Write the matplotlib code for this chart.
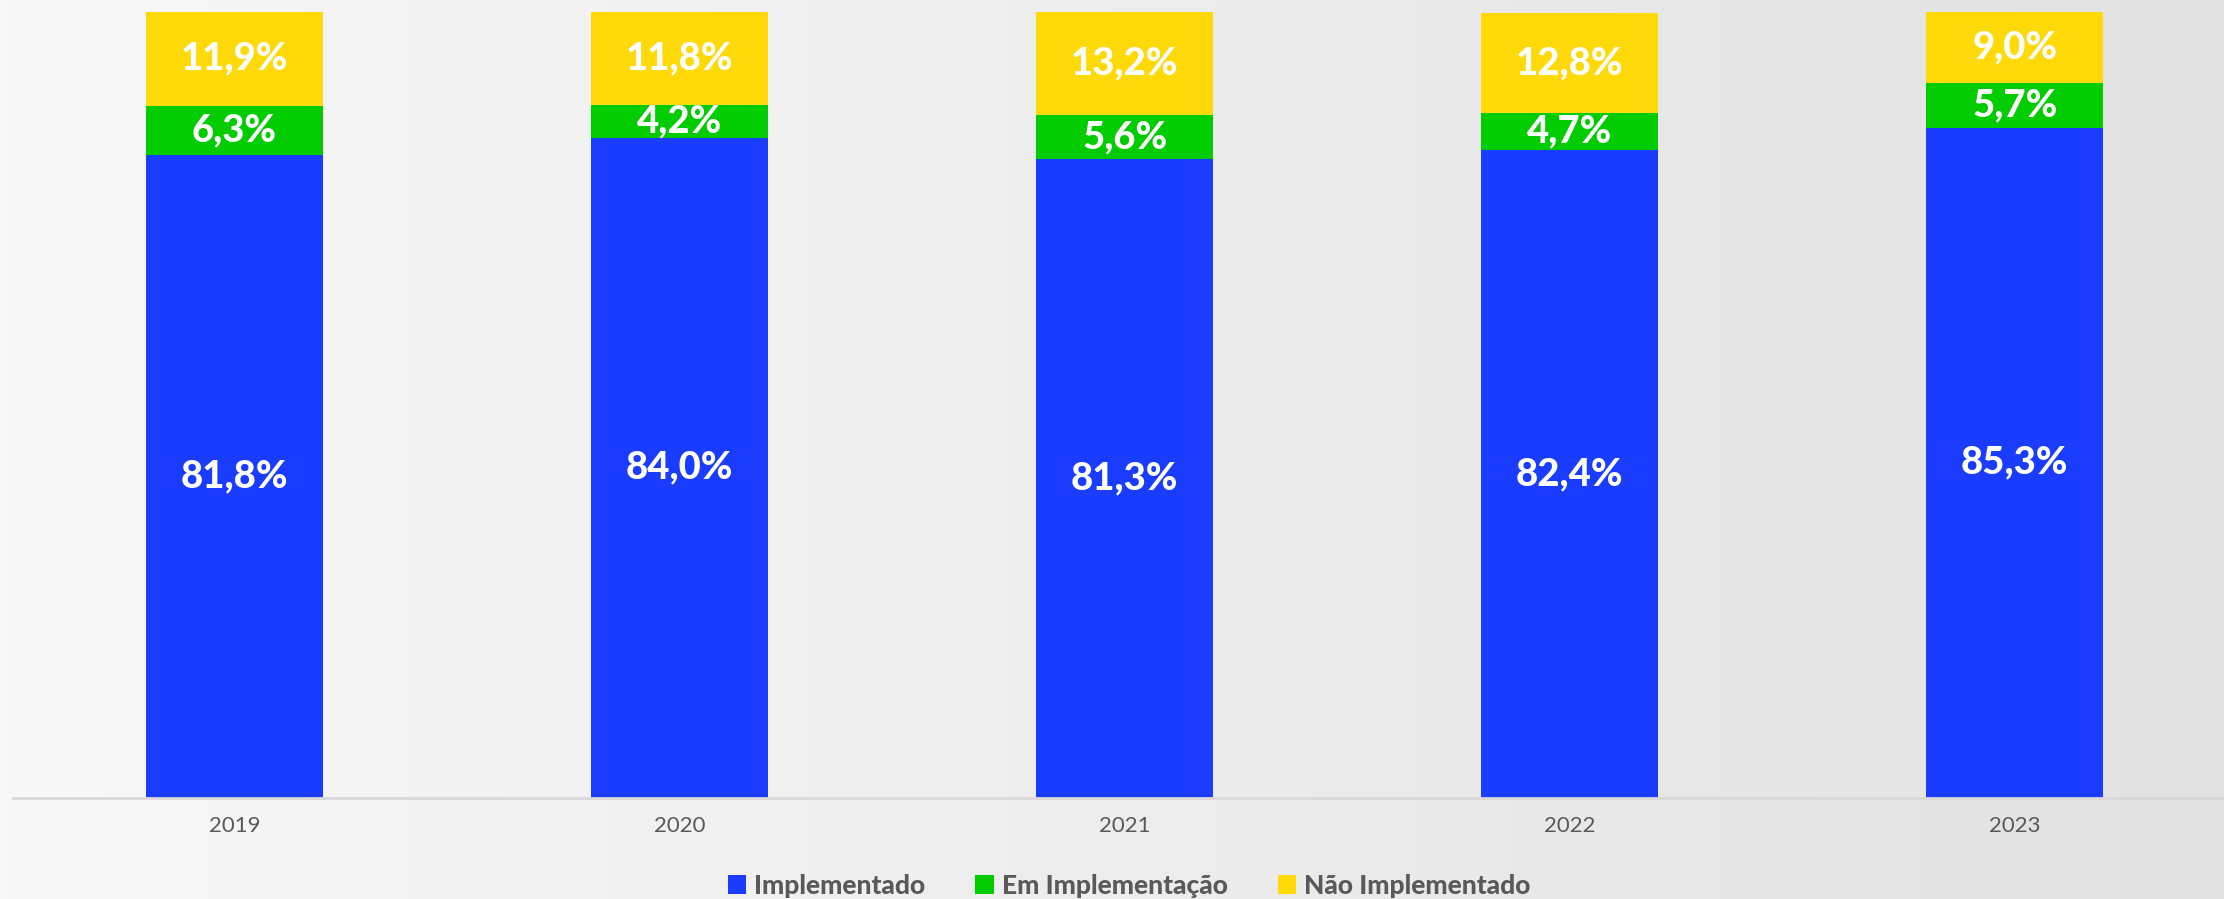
import matplotlib
matplotlib.use("Agg")
import matplotlib.pyplot as plt
import numpy as np
from matplotlib.patches import Patch
from matplotlib.colors import LinearSegmentedColormap

years = ["2019", "2020", "2021", "2022", "2023"]
implementado = [81.8, 84.0, 81.3, 82.4, 85.3]
em_implementacao = [6.3, 4.2, 5.6, 4.7, 5.7]
nao_implementado = [11.9, 11.8, 13.2, 12.8, 9.0]
series_names = ["Implementado", "Em Implementação", "Não Implementado"]
colors = ["#1a3cff", "#00cc00", "#ffd908"]

W, H = 2224, 899
fig = plt.figure(figsize=(W / 100, H / 100), dpi=100)

# background gradient
bg = fig.add_axes([0, 0, 1, 1], zorder=-10)
grad = np.linspace(0, 1, 256)[None, :]
cm = LinearSegmentedColormap.from_list("bg", ["#f8f8f8", "#e2e2e2"])
bg.imshow(grad, aspect="auto", cmap=cm, extent=[0, 1, 0, 1])
bg.set_axis_off()

ax = fig.add_axes([12.5 / W, (H - 798) / H, 1 - 12.5 / W, (798 - 12) / H])
ax.patch.set_alpha(0)
x = np.arange(len(years))
width = 0.398
bottoms = np.zeros(len(years))
for vals, col in zip([implementado, em_implementacao, nao_implementado], colors):
    vals = np.array(vals)
    ax.bar(x, vals, width, bottom=bottoms, color=col, edgecolor="none", zorder=2)
    for xi, b, v in zip(x, bottoms, vals):
        ax.text(xi, b + v / 2, f"{v:.1f}%".replace(".", ","), ha="center", va="center",
                color="white", fontsize=27.5, fontweight=900, family="Lato", zorder=3)
    bottoms = bottoms + vals

ax.set_xlim(-0.4985, 4.47)
ax.set_ylim(0, 100)
ax.set_yticks([])
ax.set_xticks(x)
ax.set_xticklabels(years, family="Lato", fontsize=16, color="#595959")
ax.tick_params(axis="x", length=0, pad=13)
for s in ["top", "right", "left"]:
    ax.spines[s].set_visible(False)
ax.spines["bottom"].set_color("#d9d9d9")
ax.spines["bottom"].set_linewidth(2)

handles = [Patch(facecolor=c, edgecolor="none") for c in colors]
fig.legend(handles, series_names, loc="center", bbox_to_anchor=(1129 / W, (H - 886) / H),
           ncol=3, frameon=False, handlelength=0.7, handleheight=0.75, handletextpad=0.3,
           columnspacing=1.9, prop={"family": "Lato", "weight": 900, "size": 19},
           labelcolor="#595959")

fig.savefig("out.png", dpi=100)
